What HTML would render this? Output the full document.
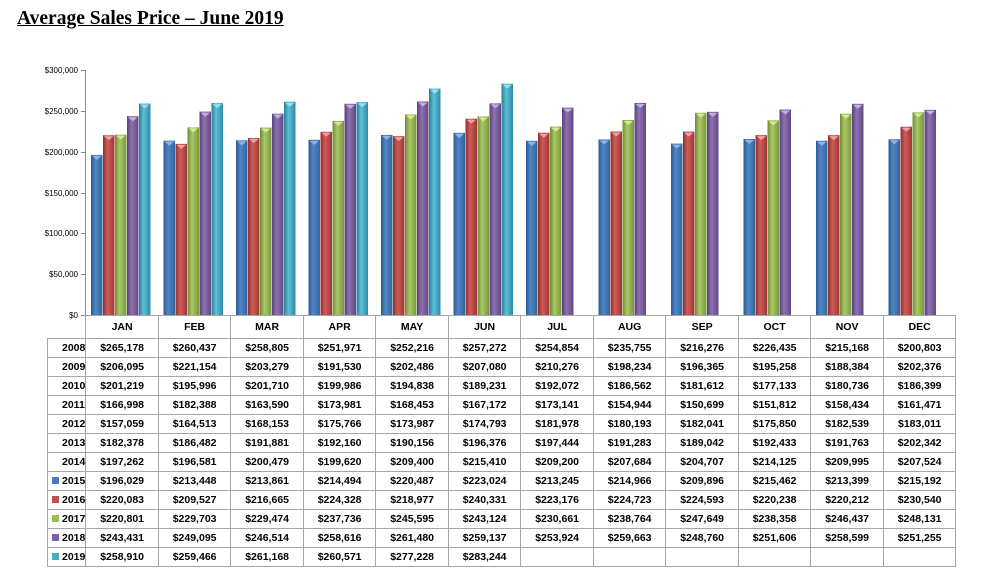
<!DOCTYPE html>
<html><head><meta charset="utf-8"><style>
body{margin:0;background:#fff;width:982px;height:572px;overflow:hidden;position:relative;font-family:"Liberation Sans",sans-serif}
#title{position:absolute;left:17px;top:8px;font:bold 19.5px "Liberation Serif",serif;text-decoration:underline;color:#000}
svg{position:absolute;left:0;top:0}
table{position:absolute;left:47px;top:315px;border-collapse:collapse;table-layout:fixed}
td{border:1px solid #a6a6a6;height:18px;padding:0;font-size:10.5px;font-weight:bold;text-align:center;color:#000;white-space:nowrap}
tr.h td{height:22px}
td.y{text-align:left;padding-left:4px}
td.y.p{padding-left:14px}
.sq{display:inline-block;width:7px;height:7px;margin-right:3px;vertical-align:0px}
</style></head><body>
<div id="title">Average Sales Price – June 2019</div>
<svg width="982" height="572" id="s">
<g font-family="Liberation Sans" font-size="8" fill="#000" text-anchor="end">
<text x="78" y="73">$300,000</text>
<text x="78" y="114">$250,000</text>
<text x="78" y="155">$200,000</text>
<text x="78" y="196">$150,000</text>
<text x="78" y="236">$100,000</text>
<text x="78" y="277">$50,000</text>
<text x="78" y="318">$0</text>
</g>
<line x1="85.5" y1="70" x2="85.5" y2="315" stroke="#888"/>
<g stroke="#888"><line x1="81" x2="85" y1="70.5" y2="70.5"/><line x1="81" x2="85" y1="111.5" y2="111.5"/><line x1="81" x2="85" y1="152.5" y2="152.5"/><line x1="81" x2="85" y1="193.5" y2="193.5"/><line x1="81" x2="85" y1="233.5" y2="233.5"/><line x1="81" x2="85" y1="274.5" y2="274.5"/><line x1="81" x2="85" y1="315.5" y2="315.5"/></g>
<g id="bars"></g>
</svg>
<table>
<colgroup><col style="width:38px"><col span="12" style="width:72.5px"></colgroup>
<tr class="h"><td style="border:none"></td><td>JAN</td><td>FEB</td><td>MAR</td><td>APR</td><td>MAY</td><td>JUN</td><td>JUL</td><td>AUG</td><td>SEP</td><td>OCT</td><td>NOV</td><td>DEC</td></tr>
<tr><td class="y p">2008</td><td>$265,178</td><td>$260,437</td><td>$258,805</td><td>$251,971</td><td>$252,216</td><td>$257,272</td><td>$254,854</td><td>$235,755</td><td>$216,276</td><td>$226,435</td><td>$215,168</td><td>$200,803</td></tr>
<tr><td class="y p">2009</td><td>$206,095</td><td>$221,154</td><td>$203,279</td><td>$191,530</td><td>$202,486</td><td>$207,080</td><td>$210,276</td><td>$198,234</td><td>$196,365</td><td>$195,258</td><td>$188,384</td><td>$202,376</td></tr>
<tr><td class="y p">2010</td><td>$201,219</td><td>$195,996</td><td>$201,710</td><td>$199,986</td><td>$194,838</td><td>$189,231</td><td>$192,072</td><td>$186,562</td><td>$181,612</td><td>$177,133</td><td>$180,736</td><td>$186,399</td></tr>
<tr><td class="y p">2011</td><td>$166,998</td><td>$182,388</td><td>$163,590</td><td>$173,981</td><td>$168,453</td><td>$167,172</td><td>$173,141</td><td>$154,944</td><td>$150,699</td><td>$151,812</td><td>$158,434</td><td>$161,471</td></tr>
<tr><td class="y p">2012</td><td>$157,059</td><td>$164,513</td><td>$168,153</td><td>$175,766</td><td>$173,987</td><td>$174,793</td><td>$181,978</td><td>$180,193</td><td>$182,041</td><td>$175,850</td><td>$182,539</td><td>$183,011</td></tr>
<tr><td class="y p">2013</td><td>$182,378</td><td>$186,482</td><td>$191,881</td><td>$192,160</td><td>$190,156</td><td>$196,376</td><td>$197,444</td><td>$191,283</td><td>$189,042</td><td>$192,433</td><td>$191,763</td><td>$202,342</td></tr>
<tr><td class="y p">2014</td><td>$197,262</td><td>$196,581</td><td>$200,479</td><td>$199,620</td><td>$209,400</td><td>$215,410</td><td>$209,200</td><td>$207,684</td><td>$204,707</td><td>$214,125</td><td>$209,995</td><td>$207,524</td></tr>
<tr><td class="y"><span class="sq" style="background:#4a7ebb"></span>2015</td><td>$196,029</td><td>$213,448</td><td>$213,861</td><td>$214,494</td><td>$220,487</td><td>$223,024</td><td>$213,245</td><td>$214,966</td><td>$209,896</td><td>$215,462</td><td>$213,399</td><td>$215,192</td></tr>
<tr><td class="y"><span class="sq" style="background:#c0504d"></span>2016</td><td>$220,083</td><td>$209,527</td><td>$216,665</td><td>$224,328</td><td>$218,977</td><td>$240,331</td><td>$223,176</td><td>$224,723</td><td>$224,593</td><td>$220,238</td><td>$220,212</td><td>$230,540</td></tr>
<tr><td class="y"><span class="sq" style="background:#9bbb59"></span>2017</td><td>$220,801</td><td>$229,703</td><td>$229,474</td><td>$237,736</td><td>$245,595</td><td>$243,124</td><td>$230,661</td><td>$238,764</td><td>$247,649</td><td>$238,358</td><td>$246,437</td><td>$248,131</td></tr>
<tr><td class="y"><span class="sq" style="background:#8064a2"></span>2018</td><td>$243,431</td><td>$249,095</td><td>$246,514</td><td>$258,616</td><td>$261,480</td><td>$259,137</td><td>$253,924</td><td>$259,663</td><td>$248,760</td><td>$251,606</td><td>$258,599</td><td>$251,255</td></tr>
<tr><td class="y"><span class="sq" style="background:#4bacc6"></span>2019</td><td>$258,910</td><td>$259,466</td><td>$261,168</td><td>$260,571</td><td>$277,228</td><td>$283,244</td><td></td><td></td><td></td><td></td><td></td><td></td></tr>
</table>
<script>
var d=[[196029,213448,213861,214494,220487,223024,213245,214966,209896,215462,213399,215192],
[220083,209527,216665,224328,218977,240331,223176,224723,224593,220238,220212,230540],
[220801,229703,229474,237736,245595,243124,230661,238764,247649,238358,246437,248131],
[243431,249095,246514,258616,261480,259137,253924,259663,248760,251606,258599,251255],
[258910,259466,261168,260571,277228,283244]];
var c=[["#2c5a8f","#4f86c6","#35649b"],["#8f2f2c","#cd5c59","#9c3835"],["#6f8a37","#a9c966","#7a963d"],["#58407a","#8e72b0","#634886"],["#2b7d96","#5cc0da","#3389a4"]];
var cap=["#8fb4e3","#f0a09e","#d7e69a","#c1aee0","#93e0f2"];
var s='<defs>';
c.forEach(function(k,i){s+='<linearGradient id="g'+i+'"><stop offset="0" stop-color="'+k[0]+'"/><stop offset="0.4" stop-color="'+k[1]+'"/><stop offset="1" stop-color="'+k[2]+'"/></linearGradient>';});
s+='</defs>';
for(var i=0;i<5;i++)for(var m=0;m<d[i].length;m++){
var x=85+m*72.5+6+i*12,y=315-d[i][m]/300000*245;
s+='<rect x="'+x+'" y="'+y+'" width="11.5" height="'+(315-y)+'" fill="url(#g'+i+')"/>';
s+='<polygon points="'+(x+1)+','+(y+1)+' '+(x+10.5)+','+(y+1)+' '+(x+5.75)+','+(y+5)+'" fill="'+cap[i]+'"/>';}
document.getElementById('bars').innerHTML=s;
</script>
</body></html>
